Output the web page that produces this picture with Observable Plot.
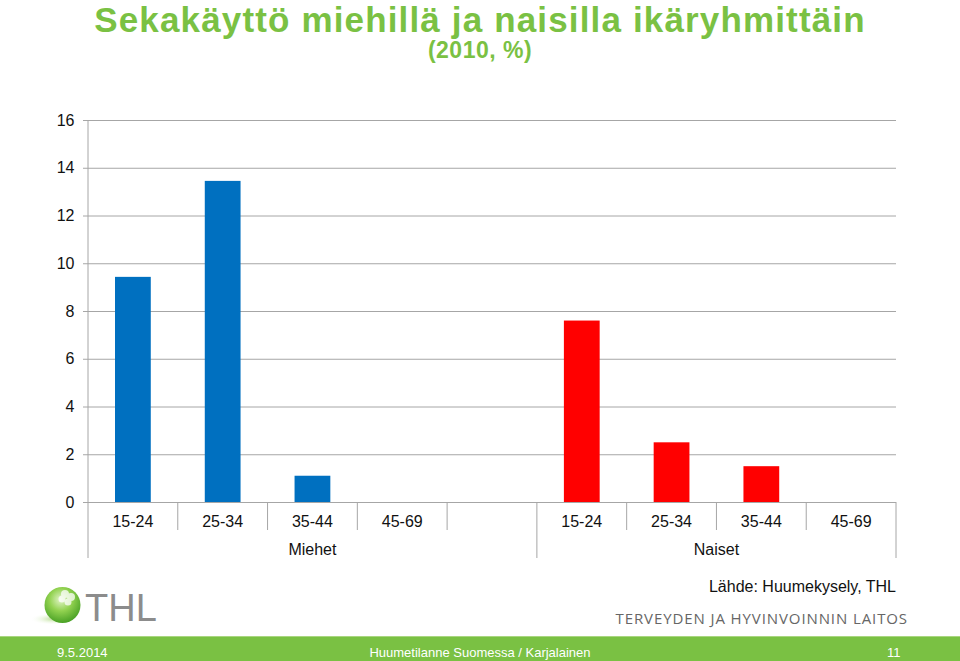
<!DOCTYPE html>
<html>
<head>
<meta charset="utf-8">
<script src="https://cdn.jsdelivr.net/npm/d3@7"></script>
<script src="https://cdn.jsdelivr.net/npm/@observablehq/plot@0.6"></script>
<style>
  html, body { margin: 0; padding: 0; background: #fff; }
  #page { position: relative; width: 960px; height: 661px; overflow: hidden; font-family: "Liberation Sans", Arial, sans-serif; }
  #title { position: absolute; left: 0; width: 960px; top: 0px; line-height: 39.5px; text-align: center; color: #7ac143; font-weight: bold; font-size: 35px; letter-spacing: 1.15px; }
  #subtitle { position: absolute; left: 0; width: 960px; top: 37px; line-height: 26px; text-align: center; color: #7ac143; font-weight: bold; font-size: 23px; letter-spacing: 0.5px; }
  #chart { position: absolute; left: 0; top: 100px; }
  #source { position: absolute; right: 64px; top: 578px; font-size: 16px; color: #111; }
  #inst { position: absolute; right: 52px; top: 608px; font-family: "Open Sans", sans-serif; font-size: 15px; color: #666; letter-spacing: 0.9px; }
  #logo { position: absolute; left: 28px; top: 580px; }
  #footer { position: absolute; left: 0; top: 636px; width: 960px; height: 25px; background: #7ac143; border-top: 1px solid #a9d67f; color: #fff; font-size: 13px; }
  #footer span { position: absolute; top: 8px; }
</style>
</head>
<body>
<div id="page">
  <div id="title">Sekakäyttö miehillä ja naisilla ikäryhmittäin</div>
  <div id="subtitle">(2010, %)</div>
  <div id="chart"></div>
  <svg id="logo" width="140" height="50" viewBox="0 0 140 50">
    <defs>
      <radialGradient id="sph" cx="0.45" cy="0.35" r="0.7">
        <stop offset="0" stop-color="#e2f5c8"/>
        <stop offset="0.45" stop-color="#92d250"/>
        <stop offset="1" stop-color="#3f9a1f"/>
      </radialGradient>
      <radialGradient id="shd" cx="0.6" cy="0.5" r="0.6">
        <stop offset="0" stop-color="#b5dd8c"/>
        <stop offset="1" stop-color="#ffffff" stop-opacity="0"/>
      </radialGradient>
    </defs>
    <ellipse cx="22" cy="39" rx="20" ry="5" fill="url(#shd)"/>
    <circle cx="34.5" cy="25" r="18" fill="url(#sph)"/>
    <g fill="#ffffff" opacity="0.75">
      <circle cx="37" cy="14" r="4"/>
      <circle cx="43" cy="17" r="4"/>
      <circle cx="40" cy="22" r="3.5"/>
      <circle cx="34" cy="19" r="3.5"/>
    </g>
    <text x="57" y="41" font-family="Liberation Sans, Arial, sans-serif" font-size="38" fill="#8c8c8c">THL</text>
  </svg>
  <div id="source">Lähde: Huumekysely, THL</div>
  <div id="inst">TERVEYDEN JA HYVINVOINNIN LAITOS</div>
  <div id="footer">
    <span style="left:57px">9.5.2014</span>
    <span style="left:0;width:960px;text-align:center">Huumetilanne Suomessa / Karjalainen</span>
    <span style="left:887px">11</span>
  </div>
</div>
<script>
// Data
const groups = ["Miehet", "Naiset"];
const ages = ["15-24", "25-34", "35-44", "45-69"];
const miehet = [9.43, 13.45, 1.1, 0];
const naiset = [7.6, 2.5, 1.5, 0];
const groupColors = ["#0070c0", "#ff0000"];
const yTicks = [0, 2, 4, 6, 8, 10, 12, 14, 16];

// slots: Miehet has 4 ages + one empty slot, Naiset has 4 ages
const slots = [];
ages.forEach(a => slots.push({key: "Miehet|" + a, group: "Miehet", age: a}));
slots.push({key: "Miehet|", group: "Miehet", age: ""});
ages.forEach(a => slots.push({key: "Naiset|" + a, group: "Naiset", age: a}));

const data = [];
ages.forEach((a, i) => data.push({key: "Miehet|" + a, group: "Miehet", value: miehet[i]}));
ages.forEach((a, i) => data.push({key: "Naiset|" + a, group: "Naiset", value: naiset[i]}));

const domain = slots.map(s => s.key);
const gridColor = "#a6a6a6";
const font = "Liberation Sans, Arial, sans-serif";

function categoryAxis(index, scales, values, dimensions) {
  const x = scales.x, y = scales.y;
  const step = x(domain[1]) - x(domain[0]);
  const g = d3.create("svg:g");
  const y0 = y(0);
  // vertical value axis line, extended down through the category area
  g.append("line")
    .attr("x1", x(domain[0])).attr("x2", x(domain[0]))
    .attr("y1", y(16)).attr("y2", y0 + 56)
    .attr("stroke", gridColor);
  // boundaries between categories and groups
  for (let i = 1; i <= domain.length; i++) {
    const xi = i < domain.length ? x(domain[i]) : x(domain[domain.length - 1]) + step;
    const cur = slots[i], prev = slots[i - 1];
    const isGroup = i === domain.length || (cur && prev && cur.group !== prev.group);
    g.append("line")
      .attr("x1", xi).attr("x2", xi)
      .attr("y1", y0).attr("y2", y0 + (isGroup ? 56 : 28))
      .attr("stroke", gridColor);
  }
  // category labels
  slots.forEach(s => {
    if (!s.age) return;
    g.append("text")
      .attr("x", x(s.key) + step / 2).attr("y", y0 + 25)
      .attr("text-anchor", "middle").attr("font-family", font)
      .attr("font-size", 16).attr("fill", "#111").text(s.age);
  });
  // group labels
  groups.forEach(gr => {
    const ks = slots.filter(s => s.group === gr).map(s => s.key);
    const x1 = x(ks[0]), x2 = x(ks[ks.length - 1]) + step;
    g.append("text")
      .attr("x", (x1 + x2) / 2).attr("y", y0 + 53)
      .attr("text-anchor", "middle").attr("font-family", font)
      .attr("font-size", 16).attr("fill", "#111").text(gr);
  });
  return g.node();
}

const chart = Plot.plot({
  width: 960,
  height: 470,
  marginLeft: 88,
  marginRight: 64,
  marginTop: 20,
  marginBottom: 68,
  style: {fontFamily: font, fontSize: "16px", color: "#111", background: "transparent"},
  x: {domain, padding: 0, round: false, axis: null},
  y: {domain: [0, 16], ticks: yTicks, label: null},
  color: {domain: groups, range: groupColors},
  marks: [
    Plot.gridY(yTicks, {stroke: gridColor, strokeOpacity: 1}),
    Plot.axisY(yTicks, {tickSize: 5, tickPadding: 9, stroke: gridColor, fill: "#111", fontSize: 16, label: null, tickFormat: d => String(d)}),
    Plot.barY(data, {x: "key", y: "value", fill: "group", insetLeft: 27, insetRight: 27}),
    categoryAxis
  ]
});
document.getElementById("chart").appendChild(chart);
</script>
</body>
</html>
